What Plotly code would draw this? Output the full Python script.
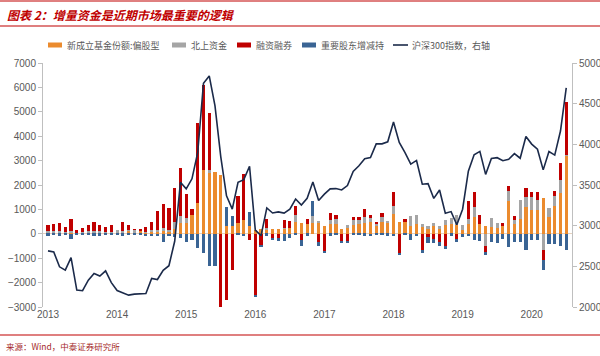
import plotly.graph_objects as go

# ---------------- data (monthly, 2013-01 .. 2020-07) ----------------
months = [f"{y}-{m:02d}" for y in range(2013, 2021) for m in range(1, 13)][:91]

fund_new = [  # 新成立基金份额:偏股型
    60, 60, 50, 40, 60, 30, 40, 50, 60, 50, 40, 50,
    30, 60, 150, 30, 140, 60, 60, 90, 150, 100, 200, 440,
    440, 780, 1250, 2630, 2500, 2550, 2420, 300, 300, 440, 570, 300,
    150, 200, 150, 200, 200, 200, 250, 500, 450, 400, 450, 480,
    340, 400, 400, 200, 250, 350, 400, 430, 480, 300, 470, 450,
    820, 500, 500, 340, 410, 270, 200, 300, 200, 350, 400, 350,
    150, 410, 680, 410, 300, 270, 250, 340, 1350, 420, 620, 1090,
    960, 960, 1460, 680, 1120, 1660, 3200]

northbound = [  # 北上资金
    50, 40, 80, 30, 60, 20, 30, 50, 60, 50, 40, 40,
    110, 40, 20, 130, 0, 30, 100, 60, 80, 60, 300, 270,
    200, 0, 0, 0, 100, 0, 0, 0, 0, 0, 0, 0,
    0, 0, 100, 0, 0, 50, 0, 270, 0, 0, 300, 50,
    0, 150, 200, 0, 120, 200, 150, 250, 150, 100, 200, 50,
    340, 0, 0, 370, 380, 140, 140, 160, 130, 200, 260, 430,
    200, 200, 410, 0, -500, 380, 200, 0, 400, 160, 750, 410,
    550, 410, -680, 380, 410, 540, 50]

margin = [  # 融资融券
    260, 300, 320, 200, 480, 90, 160, 270, 380, 270, 180, 280,
    0, 380, 200, 30, 25, 180, 320, 765, 1000, 890, 1370, 1990,
    980, 230, 3280, 3470, 2370, 0, -2980, -2700, -1480, 1090, 1900, -250,
    -2520, -450, 350, -200, -180, 300, 270, 360, -250, 200, 0, -350,
    -720, 300, 180, -300, -300, 120, 120, 320, 140, 100, 180, 0,
    550, -820, 115, 0, 0, -650, -130, -200, -350, -500, 0, -250,
    0, 750, 640, 370, -250, 0, 0, 100, 190, 160, 0, 360,
    220, 330, -410, 0, 220, 710, 2150]

holders = [  # 重要股东增减持
    -80, -60, -70, -50, -200, -60, -60, -60, -80, -70, -60, -60,
    -50, -80, -60, -30, -20, -90, -100, -100, -320, -100, -130, -180,
    -355, -250, -590, -800, -1300, -1300, 0, 780, 410, -50, -100, 575,
    -80, -100, -80, -50, -120, -300, -180, -50, -270, -80, 575, -150,
    -50, -80, -50, -50, -80, -30, -50, -70, -100, -50, -60, -80,
    -100, -40, -60, -250, -100, -140, -250, -180, -130, -115, -80, -70,
    -130, -100, -250, -300, -100, -340, -380, -200, -550, -340, -340, -650,
    -270, -270, -410, -410, -410, -500, -650]

csi300 = [  # 沪深300指数（右轴）
    2690, 2676, 2494, 2453, 2608, 2208, 2200, 2330, 2412, 2380, 2445, 2300,
    2203, 2178, 2146, 2158, 2161, 2165, 2351, 2338, 2451, 2508, 2808, 3533,
    3453, 3576, 3900, 4750, 4841, 4473, 3850, 3366, 3203, 3534, 3566, 3731,
    2946, 2877, 3218, 3156, 3169, 3154, 3203, 3327, 3253, 3336, 3538, 3310,
    3387, 3452, 3456, 3439, 3493, 3666, 3737, 3822, 3837, 4006, 4006, 4031,
    4275, 4023, 3899, 3756, 3802, 3510, 3517, 3335, 3438, 3153, 3173, 3011,
    3202, 3670, 3872, 3913, 3630, 3826, 3836, 3799, 3815, 3886, 3829, 4097,
    4003, 3940, 3686, 3912, 3868, 4164, 4695]

year_labels = ["2013", "2014", "2015", "2016", "2017", "2018", "2019", "2020"]
series_names = ["新成立基金份额:偏股型", "北上资金", "融资融券", "重要股东增减持", "沪深300指数，右轴"]

x = list(range(len(months)))
year_ticks = [months.index(f"{y}-01") for y in year_labels]

# ---------------- figure ----------------
FONT = "Liberation Sans, Arial, Noto Sans CJK SC, sans-serif"
CJK = "Noto Sans CJK SC, sans-serif"
AX = "#BFBFBF"
TXT = "#595959"
LINE_COL = "#1B2A4A"

fig = go.Figure()
bar_colors = ["#EB8B2E", "#A5A5A5", "#C00000", "#3A6494"]
for name, vals, col in zip(series_names[:4], [fund_new, northbound, margin, holders], bar_colors):
    fig.add_trace(go.Bar(x=x, y=vals, name=name, marker=dict(color=col, line=dict(width=0)),
                         width=0.55, showlegend=False))

fig.add_trace(go.Scatter(x=x, y=csi300, name=series_names[4], mode="lines",
                         line=dict(color=LINE_COL, width=1.6), yaxis="y2", showlegend=False))

# pixel helpers for decorations (plot area: x 43..572, y 63..307)
L, R, T, B = 43, 572, 63, 307
def px(X):
    return (X - L) / (R - L)
def py(Y):
    return (B - Y) / (B - T)

annotations = [
    dict(xref="paper", yref="paper", x=px(5), y=py(14), xanchor="left", yanchor="middle",
         text="<b><i>图表 2：增量资金是近期市场最重要的逻辑</i></b>", showarrow=False,
         font=dict(family=CJK, size=12, color="#C00000")),
    dict(xref="paper", yref="paper", x=px(4), y=py(346), xanchor="left", yanchor="middle",
         text="来源：Wind，中泰证券研究所", showarrow=False,
         font=dict(family=CJK, size=8.5, color="#A52A2A")),
]
shapes = [
    dict(type="line", xref="paper", yref="paper", x0=px(0), x1=px(600), y0=py(1), y1=py(1),
         line=dict(color="#C00000", width=1)),
    dict(type="line", xref="paper", yref="paper", x0=px(0), x1=px(600), y0=py(26), y1=py(26),
         line=dict(color="#C00000", width=1.2)),
    dict(type="line", xref="paper", yref="paper", x0=px(0), x1=px(600), y0=py(335), y1=py(335),
         line=dict(color="#C00000", width=1.2)),
]

# custom legend (single row, as in the reference)
LEG_Y = 45
legend_pos = [48, 172, 237, 302, 393]
for i, name in enumerate(series_names):
    x0 = legend_pos[i]
    if i < 4:
        shapes.append(dict(type="rect", xref="paper", yref="paper",
                           x0=px(x0), x1=px(x0 + 14), y0=py(LEG_Y + 2.5), y1=py(LEG_Y - 2.5),
                           fillcolor=bar_colors[i], line=dict(width=0)))
    else:
        shapes.append(dict(type="line", xref="paper", yref="paper",
                           x0=px(x0), x1=px(x0 + 15), y0=py(LEG_Y), y1=py(LEG_Y),
                           line=dict(color=LINE_COL, width=1.6)))
    annotations.append(dict(xref="paper", yref="paper", x=px(x0 + 17), y=py(LEG_Y),
                            xanchor="left", yanchor="middle", text=name, showarrow=False,
                            font=dict(family=CJK, size=9, color=TXT)))

fig.update_layout(
    width=600, height=356,
    margin=dict(l=L, r=600 - R, t=T, b=356 - B, autoexpand=False),
    paper_bgcolor="white", plot_bgcolor="white",
    barmode="relative", bargap=0,
    font=dict(family=FONT, size=9, color=TXT),
    showlegend=False,
    xaxis=dict(range=[-0.87, 91], tickvals=year_ticks, ticktext=year_labels,
               showline=False, showgrid=False, zeroline=False, ticks="",
               tickfont=dict(size=10, color=TXT, family=FONT)),
    yaxis=dict(range=[-3000, 7000], dtick=1000, showgrid=False,
               showline=True, linecolor=AX, linewidth=1,
               ticks="outside", ticklen=4, tickcolor=AX,
               zeroline=True, zerolinecolor="#E6D2C0", zerolinewidth=1,
               tickfont=dict(size=10, color=TXT, family=FONT)),
    yaxis2=dict(range=[2000, 5000], dtick=500, overlaying="y", side="right",
                showgrid=False, showline=True, linecolor=AX, linewidth=1,
                ticks="outside", ticklen=4, tickcolor=AX, zeroline=False,
                tickfont=dict(size=10, color=TXT, family=FONT)),
    annotations=annotations,
    shapes=shapes,
)

fig.write_html("out.html", config={"displayModeBar": False},
               post_script="document.body.style.margin='0';document.body.style.overflow='hidden';")
